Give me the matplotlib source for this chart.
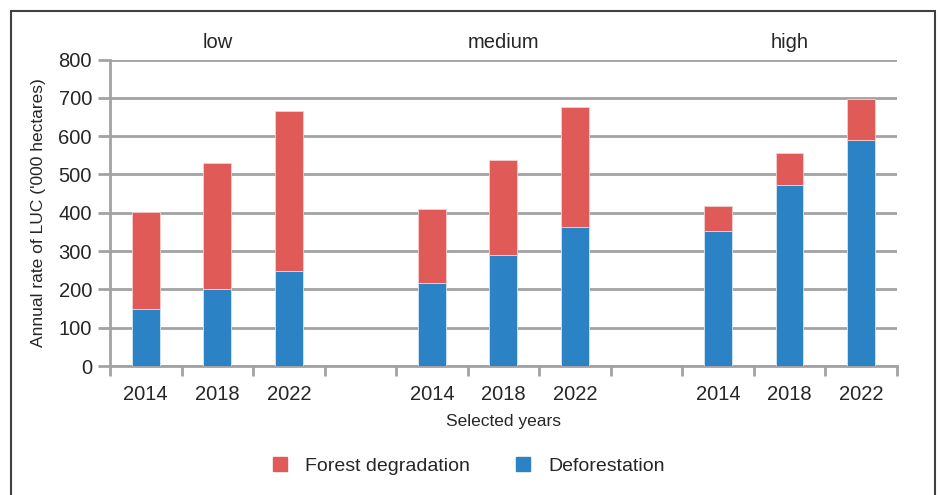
import numpy as np
import matplotlib.pyplot as plt
from matplotlib.lines import Line2D
from matplotlib.patches import Rectangle

plt.rcParams['font.family'] = ['Liberation Sans', 'DejaVu Sans']

groups = ["low", "medium", "high"]
years = ["2014", "2018", "2022"]
deforestation = [[150, 200, 247], [218, 291, 362], [353, 473, 591]]
total = [[403, 530, 666], [409, 538, 677], [418, 557, 696]]
degradation = [[t - d for t, d in zip(tr, dr)] for tr, dr in zip(total, deforestation)]

red = "#E05A57"
blue = "#2B82C5"
grey = "#A2A2A6"
txt = "#262626"

fig = plt.figure(figsize=(9.4, 4.95), dpi=100)
ax = fig.add_axes([0.117, 0.2606, 0.837, 0.619])

# 3 groups of 3 bars with an empty slot between groups
xs, labels, defo, degr = [], [], [], []
for g in range(3):
    for i in range(3):
        xs.append(g * 4 + i)
        labels.append(years[i])
        defo.append(deforestation[g][i])
        degr.append(degradation[g][i])

ax.bar(xs, defo, width=0.39, color=blue, edgecolor="#D8E8F4", linewidth=0.6, zorder=3)
ax.bar(xs, degr, bottom=defo, width=0.39, color=red, edgecolor="#F4D0CF", linewidth=0.6, zorder=3)

ax.set_xlim(-0.5, 10.5)
ax.set_ylim(0, 800)
ax.set_yticks(np.arange(0, 801, 100))
ax.set_xticks(xs)
ax.set_xticklabels(labels)
ax.set_xticks(np.arange(-0.5, 11, 1), minor=True)
ax.tick_params(axis="x", which="major", length=0, pad=14, labelsize=14.5, labelcolor=txt)
ax.tick_params(axis="x", which="minor", length=7, width=2, color=grey)
ax.tick_params(axis="y", length=9, width=2, color=grey, labelsize=14.5, labelcolor=txt, pad=4)

ax.grid(axis="y", color=grey, linewidth=2, zorder=0)
for s in ["top", "right"]:
    ax.spines[s].set_visible(False)
for s in ["left", "bottom"]:
    ax.spines[s].set_color(grey)
    ax.spines[s].set_linewidth(2)

for g, name in enumerate(groups):
    ax.text(g * 4 + 1, 820, name, ha="center", va="bottom", fontsize=14.5, color=txt)

ax.set_ylabel("Annual rate of LUC ('000 hectares)", fontsize=12.5, color=txt, labelpad=9)
ax.set_xlabel("Selected years", fontsize=12.5, color=txt, labelpad=7)

handles = [Line2D([], [], marker="s", linestyle="", markersize=10, color=red),
           Line2D([], [], marker="s", linestyle="", markersize=10, color=blue)]
fig.legend(handles, ["Forest degradation", "Deforestation"], loc="center",
           bbox_to_anchor=(0.492, 0.059), ncol=2, frameon=False, fontsize=14,
           columnspacing=1.7, handletextpad=0.3, labelcolor=txt)

# outer frame, open at the bottom edge
fig.patches.append(Rectangle((11 / 940, -0.1), 924 / 940, 1.1 - 11 / 495,
                             transform=fig.transFigure, fill=False,
                             edgecolor="#404040", linewidth=1.5))

fig.savefig("out.png", dpi=100)
